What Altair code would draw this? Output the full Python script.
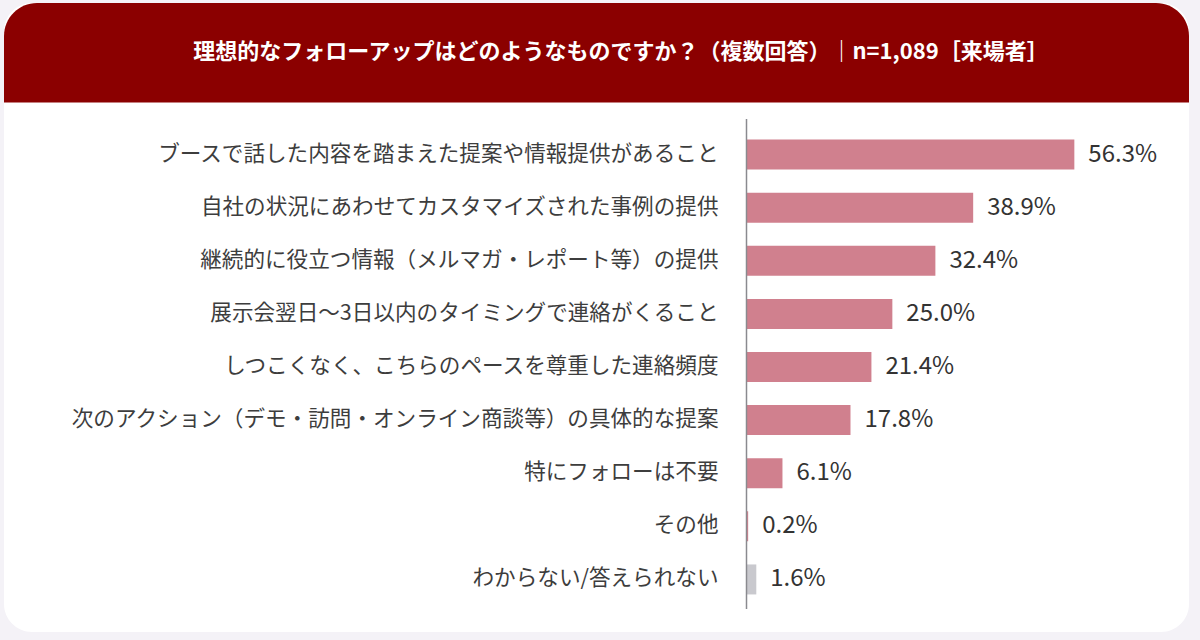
import altair as alt
import pandas as pd

# Survey answers (multiple choice), share of respondents in %
categories = [
    "ブースで話した内容を踏まえた提案や情報提供があること",
    "自社の状況にあわせてカスタマイズされた事例の提供",
    "継続的に役立つ情報（メルマガ・レポート等）の提供",
    "展示会翌日～3日以内のタイミングで連絡がくること",
    "しつこくなく、こちらのペースを尊重した連絡頻度",
    "次のアクション（デモ・訪問・オンライン商談等）の具体的な提案",
    "特にフォローは不要",
    "その他",
    "わからない/答えられない",
]
values = [56.3, 38.9, 32.4, 25.0, 21.4, 17.8, 6.1, 0.2, 1.6]
title_text = "理想的なフォローアップはどのようなものですか？（複数回答）｜n=1,089［来場者］"

FONT = "Noto Sans CJK JP"
PINK = "#d0808e"
GREY = "#c9c9ce"

df = pd.DataFrame({"category": categories, "value": values})

W, H = 407, 478
LEFT, TOP = 747, 128

base = alt.Chart(df)

y_enc = alt.Y(
    "category:N",
    sort=None,
    scale=alt.Scale(paddingInner=0.435, paddingOuter=0.2175),
    axis=alt.Axis(
        title=None,
        ticks=False,
        domain=False,
        grid=False,
        labelFont=FONT,
        labelFontSize=21.6,
        labelColor="#3d3d3d",
        labelPadding=29,
        labelLimit=800,
        zindex=2,
    ),
)
x_enc = alt.X("value:Q", scale=alt.Scale(domain=[0, 70]), axis=None)

# card background and header band
card = alt.Chart(pd.DataFrame({"k": [0]})).mark_rect(
    fill="#ffffff", cornerRadius=28
).encode(
    x=alt.value(4 - LEFT), x2=alt.value(1189 - LEFT),
    y=alt.value(3 - TOP), y2=alt.value(632 - TOP),
)
header = alt.Chart(pd.DataFrame({"k": [0]})).mark_rect(
    fill="#8b0000", cornerRadiusTopLeft=33, cornerRadiusTopRight=33
).encode(
    x=alt.value(4 - LEFT), x2=alt.value(1189 - LEFT),
    y=alt.value(3 - TOP), y2=alt.value(102.5 - TOP),
)
title = alt.Chart(pd.DataFrame({"t": [title_text]})).mark_text(
    font=FONT, fontSize=22, fontWeight="bold", color="#ffffff",
    align="center", baseline="middle",
).encode(text="t:N", x=alt.value(621 - LEFT), y=alt.value(52 - TOP))

bars = base.mark_bar().encode(
    y=y_enc,
    x=x_enc,
    color=alt.condition(
        alt.datum.category == "わからない/答えられない",
        alt.value(GREY),
        alt.value(PINK),
    ),
)

labels = base.transform_calculate(
    label="format(datum.value, '.1f') + '%'"
).mark_text(
    font=FONT, fontSize=24, color="#333333", align="left", baseline="middle", dx=14
).encode(y=y_enc, x=x_enc, text="label:N")

axis_line = alt.Chart(pd.DataFrame({"k": [0]})).mark_rule(
    color="#8a8a8f", strokeWidth=1.5
).encode(x=alt.value(-0.5), y=alt.value(119 - TOP), y2=alt.value(609 - TOP))

chart = alt.layer(card, header, title, bars, labels, axis_line).properties(
    width=W,
    height=H,
    padding={"left": LEFT, "top": TOP, "right": 1200 - LEFT - W, "bottom": 640 - TOP - H},
    autosize=alt.AutoSizeParams(type="none"),
    background="#f4f2f7",
).configure_view(stroke=None)

chart.save("out.html", embed_options={"renderer": "svg", "actions": False})
